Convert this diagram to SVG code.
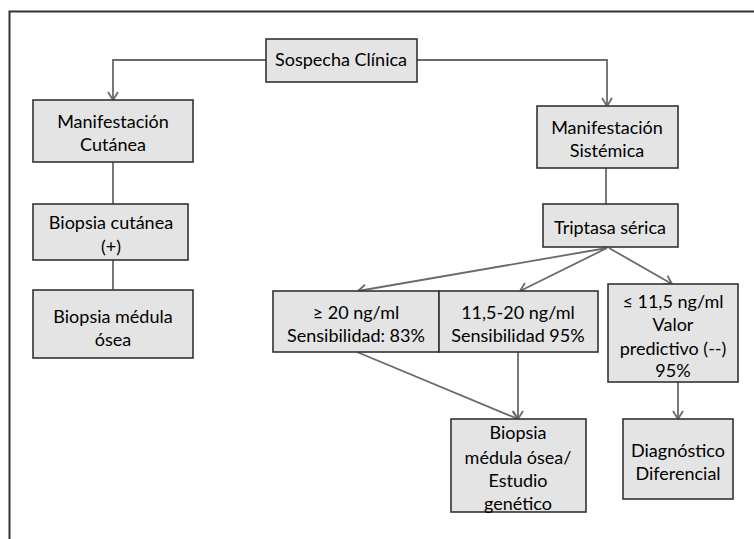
<svg xmlns="http://www.w3.org/2000/svg" width="754" height="539" viewBox="0 0 754 539">
<defs>
<marker id="arr" markerUnits="userSpaceOnUse" markerWidth="14" markerHeight="14" viewBox="0 0 14 14" refX="12" refY="7" orient="auto">
<path d="M4,2 L12,7 L4,12" fill="none" stroke="#6a6a6a" stroke-width="1.8"/>
</marker>
<style>
.box{fill:#e4e4e4;stroke:#333;stroke-width:1.6}
.t{font-family:Lato,"Liberation Sans",sans-serif;font-size:18px;fill:#000;text-anchor:middle}
.c{fill:none;stroke:#6a6a6a;stroke-width:1.8}
</style>
</defs>
<rect width="754" height="539" fill="#fff"/>
<rect x="9.5" y="11.5" width="760" height="540" fill="none" stroke="#333" stroke-width="2"/>
<g id="connectors">
<path class="c" d="M267,60 H113 V100" marker-end="url(#arr)"/>
<path class="c" d="M416,60 H607 V106" marker-end="url(#arr)"/>
<path class="c" d="M113,162 V204"/>
<path class="c" d="M113,260 V290"/>
<path class="c" d="M606,168 V204"/>
<path class="c" d="M607,248 L358,291" marker-end="url(#arr)"/>
<path class="c" d="M607,248 L520,291" marker-end="url(#arr)"/>
<path class="c" d="M609,248 L672,284" marker-end="url(#arr)"/>
<path class="c" d="M357,352 L518,419" marker-end="url(#arr)"/>
<path class="c" d="M518,352 V419" marker-end="url(#arr)"/>
<path class="c" d="M678,382 V419" marker-end="url(#arr)"/>
</g>
<g id="sospecha"><rect class="box" x="266" y="39" width="151" height="43"/><text class="t" x="341" y="66">Sospecha Clínica</text></g>
<g id="cutanea"><rect class="box" x="33" y="100" width="160" height="62"/><text class="t" x="113" y="128">Manifestación</text><text class="t" x="113" y="151">Cutánea</text></g>
<g id="biopsia-cutanea"><rect class="box" x="33" y="204" width="155" height="56"/><text class="t" x="111" y="229">Biopsia cutánea</text><text class="t" x="111" y="253">(+)</text></g>
<g id="biopsia-medula"><rect class="box" x="33" y="290" width="160" height="68"/><text class="t" x="113" y="323">Biopsia médula</text><text class="t" x="113" y="346">ósea</text></g>
<g id="sistemica"><rect class="box" x="537" y="106" width="141" height="62"/><text class="t" x="607" y="134">Manifestación</text><text class="t" x="607" y="157">Sistémica</text></g>
<g id="triptasa"><rect class="box" x="543" y="204" width="135" height="43"/><text class="t" x="610" y="234">Triptasa sérica</text></g>
<g id="ge20"><rect class="box" x="273" y="291" width="166" height="61"/><text class="t" x="356" y="319">≥ 20 ng/ml</text><text class="t" x="356" y="342">Sensibilidad: 83%</text></g>
<g id="mid"><rect class="box" x="439" y="291" width="159" height="61"/><text class="t" x="518" y="319">11,5-20 ng/ml</text><text class="t" x="518" y="342">Sensibilidad 95%</text></g>
<g id="le115"><rect class="box" x="608" y="284" width="130" height="98"/><text class="t" x="673" y="308">≤ 11,5 ng/ml</text><text class="t" x="673" y="331">Valor</text><text class="t" x="673" y="355">predictivo (--)</text><text class="t" x="673" y="377">95%</text></g>
<g id="biopsia-genetico"><rect class="box" x="451" y="419" width="135" height="93"/><text class="t" x="518" y="439">Biopsia</text><text class="t" x="518" y="464">médula ósea/</text><text class="t" x="518" y="487">Estudio</text><text class="t" x="518" y="510">genético</text></g>
<g id="diagnostico"><rect class="box" x="623" y="419" width="110" height="80"/><text class="t" x="678" y="457">Diagnóstico</text><text class="t" x="678" y="480">Diferencial</text></g>
</svg>
